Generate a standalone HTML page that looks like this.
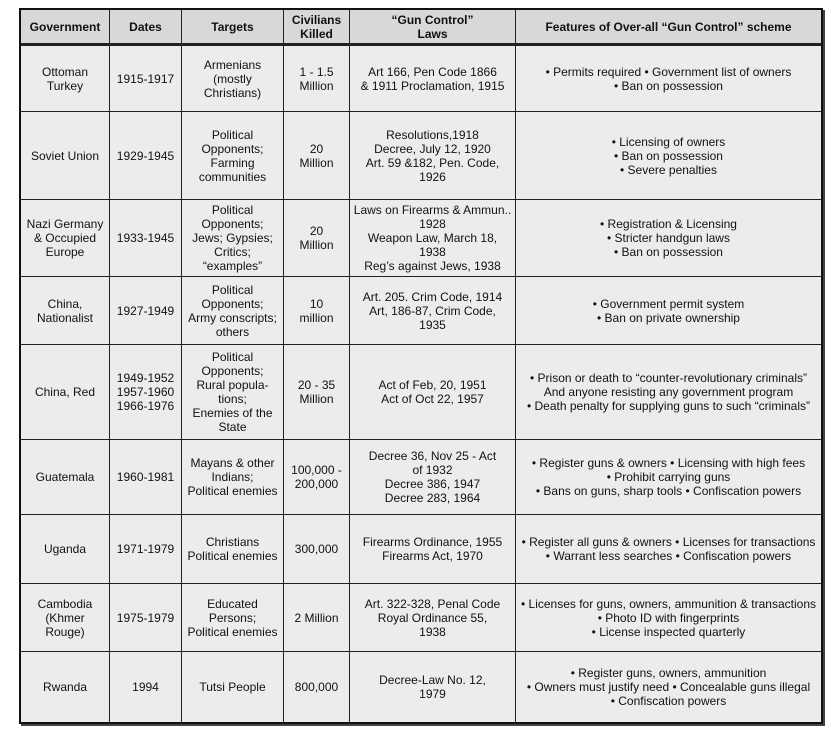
<!DOCTYPE html>
<html><head><meta charset="utf-8"><style>
body{margin:0;width:839px;height:746px;background:#fff;position:relative;overflow:hidden;font-family:"Liberation Sans",Arial,sans-serif;color:#111}
.frame{position:absolute;left:19px;top:8px;width:804px;height:716px;border:2px solid #111;box-sizing:border-box;background:#ececec;box-shadow:2px 2px 0 #444}
.c{position:absolute;display:flex;align-items:center;justify-content:center;text-align:center;font-size:12px;line-height:14px;box-sizing:border-box;border-right:1.5px solid #222;border-bottom:1.5px solid #222;padding:0 2px}
.h{background:#d8d8d8;font-weight:bold;border-bottom:3px solid #222}
</style></head><body>
<div class="frame"></div>
<div id="g"></div>
<script>
var xs=[19,110,182,284,350,516,823];
var ys=[8,46,112,200,277,345,440,515,584,652,724];
var rows=[
["Government","Dates","Targets","Civilians<br>Killed","“Gun Control”<br>Laws","Features of Over-all “Gun Control” scheme"],
["Ottoman<br>Turkey","1915-1917","Armenians<br>(mostly<br>Christians)","1 - 1.5<br>Million","Art 166, Pen Code 1866<br>&amp; 1911 Proclamation, 1915","• Permits required • Government list of owners<br>• Ban on possession"],
["Soviet Union","1929-1945","Political<br>Opponents;<br>Farming<br>communities","20<br>Million","Resolutions,1918<br>Decree, July 12, 1920<br>Art. 59 &amp;182, Pen. Code,<br>1926","• Licensing of owners<br>• Ban on possession<br>• Severe penalties"],
["Nazi Germany<br>&amp; Occupied<br>Europe","1933-1945","Political<br>Opponents;<br>Jews; Gypsies;<br>Critics;<br>“examples”","20<br>Million","Laws on Firearms &amp; Ammun..<br>1928<br>Weapon Law, March 18,<br>1938<br>Reg’s against Jews, 1938","• Registration &amp; Licensing<br>• Stricter handgun laws<br>• Ban on possession"],
["China,<br>Nationalist","1927-1949","Political<br>Opponents;<br>Army conscripts;<br>others","10<br>million","Art. 205. Crim Code, 1914<br>Art, 186-87, Crim Code,<br>1935","• Government permit system<br>• Ban on private ownership"],
["China, Red","1949-1952<br>1957-1960<br>1966-1976","Political<br>Opponents;<br>Rural popula-<br>tions;<br>Enemies of the<br>State","20 - 35<br>Million","Act of Feb, 20, 1951<br>Act of Oct 22, 1957","• Prison or death to “counter-revolutionary criminals”<br>And anyone resisting any government program<br>• Death penalty for supplying guns to such “criminals”"],
["Guatemala","1960-1981","Mayans &amp; other<br>Indians;<br>Political enemies","100,000 -<br>200,000","Decree 36, Nov 25 - Act<br>of 1932<br>Decree 386, 1947<br>Decree 283, 1964","• Register guns &amp; owners • Licensing with high fees<br>• Prohibit carrying guns<br>• Bans on guns, sharp tools • Confiscation powers"],
["Uganda","1971-1979","Christians<br>Political enemies","300,000","Firearms Ordinance, 1955<br>Firearms Act, 1970","• Register all guns &amp; owners • Licenses for transactions<br>• Warrant less searches • Confiscation powers"],
["Cambodia<br>(Khmer<br>Rouge)","1975-1979","Educated<br>Persons;<br>Political enemies","2 Million","Art. 322-328, Penal Code<br>Royal Ordinance 55,<br>1938","• Licenses for guns, owners, ammunition &amp; transactions<br>• Photo ID with fingerprints<br>• License inspected quarterly"],
["Rwanda","1994","Tutsi People","800,000","Decree-Law No. 12,<br>1979","• Register guns, owners, ammunition<br>• Owners must justify need • Concealable guns illegal<br>• Confiscation powers"]
];
var h="";
for(var r=0;r<rows.length;r++)for(var c=0;c<6;c++){
var x=xs[c]+(c==0?2:0),y=ys[r]+(r==0?2:0),w=xs[c+1]-xs[c]-(c==0?2:0)-(c==5?2:0),hh=ys[r+1]-ys[r]-(r==0?2:0)-(r==9?2:0);
var st="left:"+x+"px;top:"+y+"px;width:"+w+"px;height:"+hh+"px;";
if(c==5)st+="border-right:none;";if(r==9)st+="border-bottom:none;";
h+='<div class="c'+(r==0?' h':'')+'" style="'+st+'"><div>'+rows[r][c]+'</div></div>';}
document.getElementById("g").innerHTML=h;
</script>
</body></html>
